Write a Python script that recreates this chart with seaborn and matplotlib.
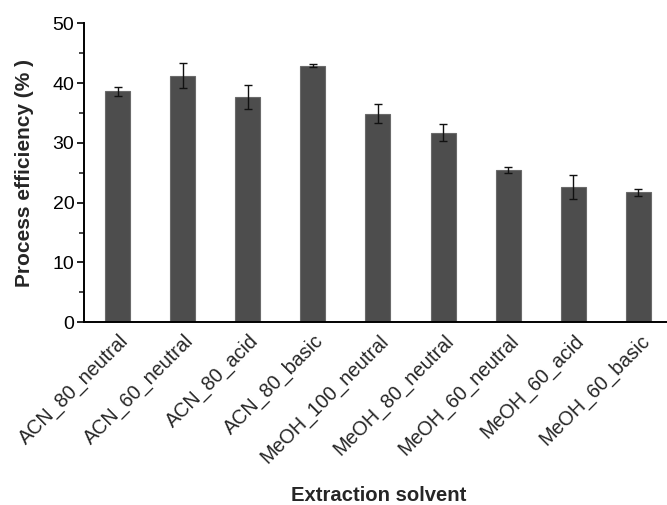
import matplotlib
matplotlib.use("Agg")
import matplotlib.pyplot as plt
import matplotlib.transforms as mtransforms
import seaborn as sns
import pandas as pd
import numpy as np
from matplotlib.ticker import MultipleLocator

categories = ["ACN_80_neutral", "ACN_60_neutral", "ACN_80_acid", "ACN_80_basic",
              "MeOH_100_neutral", "MeOH_80_neutral", "MeOH_60_neutral",
              "MeOH_60_acid", "MeOH_60_basic"]
values = [38.6, 41.2, 37.7, 42.9, 34.9, 31.7, 25.4, 22.6, 21.7]
errors = [0.7, 2.1, 2.0, 0.25, 1.55, 1.4, 0.5, 2.05, 0.55]

sns.set_style("ticks")
plt.rcParams['font.family'] = ['Liberation Sans', 'DejaVu Sans']

df = pd.DataFrame({"solvent": categories, "pe": values})

fig = plt.figure(figsize=(6.67, 5.05), dpi=100)
ax = fig.add_axes([0.126, 0.362, 0.874, 0.592])

sns.barplot(data=df, x="solvent", y="pe", color="#4d4d4d", width=0.385,
            edgecolor="#6a6a6a", linewidth=0.8, saturation=1, errorbar=None, ax=ax)
ax.errorbar(np.arange(len(categories)), values, yerr=errors, fmt="none",
            ecolor="#111111", elinewidth=1.0, capsize=3.2, capthick=1.0)

ax.set_xlim(-0.515, 8.44)
ax.set_ylim(0, 50)
ax.yaxis.set_major_locator(MultipleLocator(10))
ax.yaxis.set_minor_locator(MultipleLocator(5))
ax.tick_params(axis="y", which="major", length=5, width=1.2, labelsize=14, pad=2, colors="black")
ax.tick_params(axis="y", which="minor", length=3.6, width=1.2)
ax.tick_params(axis="x", length=0, labelsize=14.2, pad=11.5)
ax.set_xticks(range(len(categories)))
ax.set_xticklabels(categories, rotation=45, ha="right", va="center", rotation_mode="anchor")
offset = mtransforms.ScaledTranslation(8 / 100, 0, fig.dpi_scale_trans)
for lbl in ax.get_xticklabels():
    lbl.set_transform(lbl.get_transform() + offset)

for s in ["top", "right"]:
    ax.spines[s].set_visible(False)
for s in ["left", "bottom"]:
    ax.spines[s].set_linewidth(1.4)
    ax.spines[s].set_color("black")

ax.set_ylabel("Process efficiency (% )", fontsize=15, fontweight="bold")
ax.yaxis.set_label_coords(-0.085, 0.498)
ax.set_xlabel("Extraction solvent", fontsize=14.6, fontweight="bold")
ax.xaxis.set_label_coords(0.505, -0.548)

fig.savefig("out.png", dpi=100)
